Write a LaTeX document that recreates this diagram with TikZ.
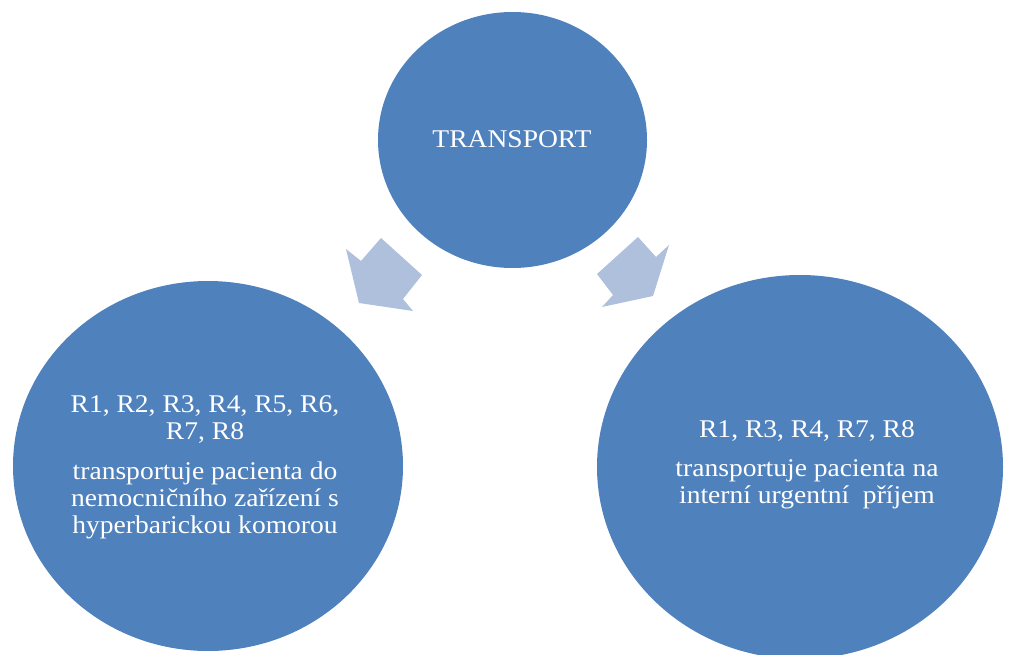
\documentclass[tikz,border=0pt]{standalone}
\usepackage{fontspec}
\setmainfont{Liberation Serif}[FakeStretch=1.08]
\usetikzlibrary{shapes.geometric}
\definecolor{circblue}{HTML}{4F81BD}
\definecolor{arrblue}{HTML}{AFC0DC}
\begin{document}
\begin{tikzpicture}[x=1pt,y=-1pt,
  bubble/.style={ellipse,fill=circblue,draw=none,inner sep=0pt},
  label/.style={text=white,align=center,inner sep=0pt,font=\fontsize{25.5}{27}\selectfont},
  blockarrow/.style={fill=arrblue,draw=none}]
\useasboundingbox (0,0) rectangle (1012,655);
% circles
\node[bubble,minimum width=269pt,minimum height=256pt] (top) at (512.5,140) {};
\node[bubble,minimum width=390pt,minimum height=370pt] (left) at (208,466) {};
\node[bubble,minimum width=406pt,minimum height=384pt] (right) at (800,467) {};
% texts
\node[label] (toptext) at (512,139) {TRANSPORT};
\node[label] (lefttext) at (205,467.5) {R1, R2, R3, R4, R5, R6,\\ R7, R8\\[13pt]
transportuje pacienta do\\ nemocničního zařízení s\\ hyperbarickou komorou};
\node[label] (righttext) at (807,465) {R1, R3, R4, R7, R8\\[12pt]
transportuje pacienta na\\ interní urgentní \ příjem};
% block arrows
\fill[blockarrow] (381,238) -- (422,275) -- (403,299) -- (413,311) -- (359,303)
  -- (346,249) -- (361,261) -- cycle;
\fill[blockarrow] (597,274) -- (638,237) -- (656,257) -- (669,245) -- (653,296)
  -- (602,307) -- (613,295) -- cycle;
\end{tikzpicture}
\end{document}
